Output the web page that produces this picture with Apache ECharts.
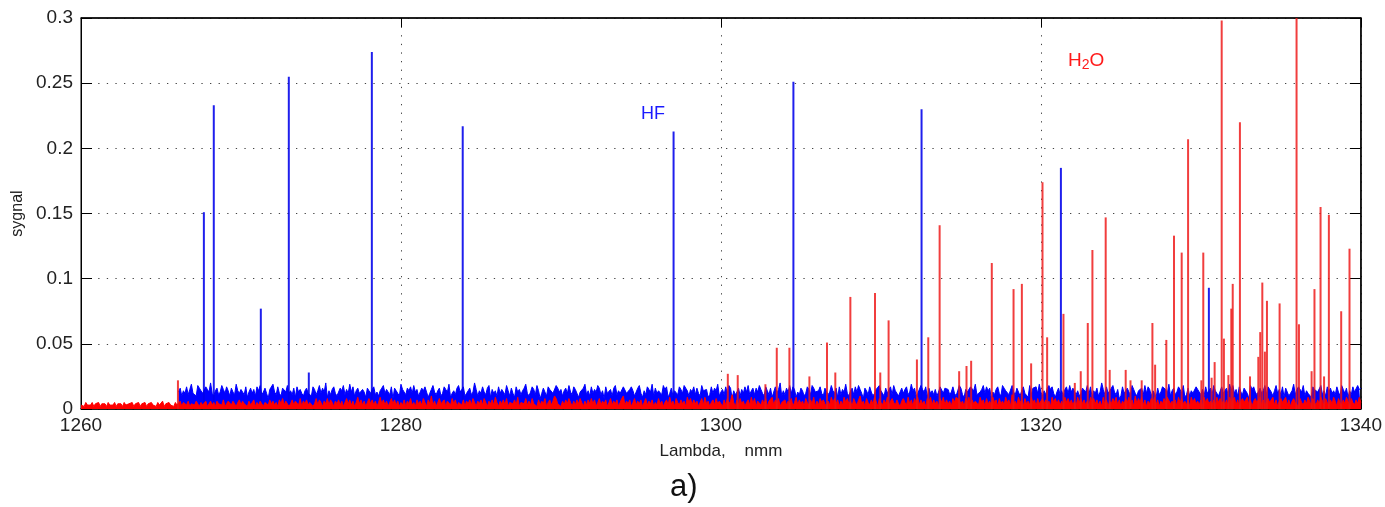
<!DOCTYPE html>
<html><head><meta charset="utf-8">
<script src="https://cdn.jsdelivr.net/npm/echarts@6/dist/echarts.min.js"></script>
<style>html,body{margin:0;padding:0;background:#fff}#c{width:1385px;height:507px}</style>
</head><body><div id="c"></div>
<script>
// ---- data ----
const xTickValues = [1260, 1280, 1300, 1320, 1340];
const yTickValues = [0, 0.05, 0.1, 0.15, 0.2, 0.25, 0.3];

// HF absorption lines (nm, signal)
const hfPos = [1267.68, 1268.30, 1271.24, 1272.99, 1274.24, 1278.18, 1283.86, 1297.04, 1304.53, 1312.54, 1321.25, 1330.50];
const hfVal = [0.151, 0.233, 0.077, 0.255, 0.028, 0.274, 0.217, 0.213, 0.251, 0.230, 0.185, 0.093];

// H2O absorption lines (nm, signal)
const h2oPos = [1266.06, 1300.43, 1301.05, 1302.78, 1303.49, 1304.28, 1305.53, 1306.63, 1307.15, 1308.09,
  1309.63, 1309.96, 1310.48, 1312.25, 1312.96, 1313.67, 1314.89, 1315.35, 1315.64, 1316.93,
  1318.29, 1318.81, 1319.39, 1320.10, 1320.39, 1321.41, 1322.12, 1322.49, 1322.93, 1323.22,
  1324.05, 1324.30, 1325.30, 1325.60, 1326.30, 1326.97, 1327.14, 1327.84, 1328.32, 1328.80,
  1329.20, 1330.03, 1330.15, 1330.67, 1330.86, 1331.30, 1331.44, 1331.72, 1331.90, 1331.99,
  1332.44, 1333.07, 1333.59, 1333.71, 1333.84, 1334.00, 1334.13, 1334.92, 1335.98, 1336.13,
  1336.92, 1337.10, 1337.48, 1337.70, 1338.00, 1338.77, 1339.29];
const h2oVal = [0.022, 0.027, 0.026, 0.019, 0.047, 0.047, 0.025, 0.051, 0.028, 0.086,
  0.089, 0.028, 0.068, 0.038, 0.055, 0.141, 0.029, 0.033, 0.037, 0.112,
  0.092, 0.096, 0.035, 0.174, 0.055, 0.073, 0.020, 0.029, 0.066, 0.122,
  0.147, 0.030, 0.030, 0.022, 0.022, 0.066, 0.034, 0.053, 0.133, 0.120,
  0.207, 0.022, 0.120, 0.024, 0.036, 0.298, 0.054, 0.026, 0.077, 0.096,
  0.220, 0.025, 0.040, 0.059, 0.097, 0.044, 0.083, 0.081, 0.300, 0.065,
  0.029, 0.092, 0.155, 0.025, 0.149, 0.075, 0.123];

// Noise floor, sampled every 0.1 nm. Each character is one sample,
// written as a base-36 digit in thousandths of signal ('c' = 0.012).
const hfNoiseStart = 1266.1;
const h2oNoiseStart = 1260.0;
const noiseStepNm = 0.1;
const hfNoise = [
  "dgaechbfjcdaigecbhfdkcaegbdifcheagdbjecf",
  "ebh9dgcfaheibdgc8fejdbhcagfdicebg9hdfcae",
  "gcdahfbeicgdk9ebfhcadgeibfcjdhaegcbfd9ge",
  "cfhbdaegicfdbh8gecajfdbgehcidfabgehd9cfi",
  "dbegachfdj9cebgidfhacegbdkfaechdbgi9fcea",
  "hcfdbieagc9hdfbegjcadhfbie8cgdahfecbigdf",
  "aegcidbhfe9dcgjbeahcfdigbe8hcdfagibecdhg",
  "cbfheadgic9ebhfdjagcedbifh9cgaedbhfcigea",
  "fdhbgcaiedf9bhcgejadfbhcig8ebdgafchdibeg",
  "bgdifcahebg9dhcfkaebgdichf9dbgeachfbigdc",
  "ehcagfbdiecg9hbfdjcaegbhdifc8gebhdacfgie",
  "dagcfhbieda9gcfhbdjegacbifdh9gcebfadhicg",
  "gfbdhcaeigb9fdchgejbadficheg8dbfhcaigedb",
  "cidbgfaehcd9ibgfhcjdaebgifhc9dgbeafhcidg",
  "hbeacgfdibh9ecgadkfbhcegidbf8ahcegdbifca",
  "edgbichfaec9gbdhifcjaegbdhfci9bgaecdhfgb",
  "fahcdgbiefa9hcdgbjeicfahdbgec8ifhdbagcei",
  "bhgdaeicfbh9gdacejbfhgdiaecb9hfgdcibeahd",
  "gcebhdaifcg9ebhdcifg"].join('');
const h2oNoise = [
  "3425343524352434253435243425324352435243",
  "5243534253462435342534625436245364253462",
  "4635264537246536425736452634725364256374",
  "6352748365247365382647356248375264837526",
  "4736258473625947362584736259473625847362",
  "5372648352746385274a36258437265384725637",
  "2647385264738526473952647382564739256483",
  "6384527364825736a84526374852637485263748",
  "4725836472583647258a36472583647258364725",
  "3846257394628537462958374625839462573846",
  "5273846b52738462573948265374826593748256",
  "7364825937462853749263857426395847263958",
  "4628537a46285374962853749268537426853947",
  "2859374628593746285937462859a74628593746",
  "6395728463957284639572b46395728463957284",
  "5847362958473629584736295847362958473629",
  "3726485937264859372a48593726485937264859",
  "8463729584637295846372958463729584637295",
  "4937268549372685493726854937268549372685",
  "6285374962853749628537496285374962853749",
  "5"].join('');

// ---- build series data ----
const noisePairs = (start, codes) => codes.split('').map((ch, i) =>
  [+(start + i * noiseStepNm).toFixed(2), parseInt(ch, 36) / 1000]);
const hfLines = hfPos.map((x, i) => [x, hfVal[i]]);
const h2oLines = h2oPos.map((x, i) => [x, h2oVal[i]]);

const FONT = "'Liberation Sans', Arial, sans-serif";
const dotted = { show: true, lineStyle: { color: '#444', width: 1, type: [1.3, 7.3] } };

const chart = echarts.init(document.getElementById('c'), null, { renderer: 'canvas' });
chart.setOption({
  animation: false,
  backgroundColor: '#fff',
  grid: { left: 81, right: 23, top: 18, bottom: 98, show: true, borderColor: '#000', borderWidth: 1, containLabel: false },
  xAxis: [{
    type: 'value', min: xTickValues[0], max: xTickValues[xTickValues.length - 1], interval: 20,
    position: 'bottom',
    axisLine: { show: true, onZero: false, lineStyle: { color: '#000', width: 1.5 } },
    axisTick: { show: true, inside: true, length: 9, lineStyle: { color: '#000' } },
    axisLabel: { fontSize: 19, color: '#222', fontFamily: FONT, margin: 7, formatter: v => String(v) },
    splitLine: dotted,
    name: 'Lambda,    nmm', nameLocation: 'middle', nameGap: 34,
    nameTextStyle: { fontSize: 17, color: '#222', fontFamily: FONT }
  }, {
    type: 'value', min: xTickValues[0], max: xTickValues[xTickValues.length - 1], interval: 20,
    position: 'top',
    axisLine: { show: true, onZero: false, lineStyle: { color: '#000', width: 1.5 } },
    axisTick: { show: true, inside: true, length: 9, lineStyle: { color: '#000' } },
    axisLabel: { show: false }, splitLine: { show: false }
  }],
  yAxis: [{
    type: 'value', min: yTickValues[0], max: yTickValues[yTickValues.length - 1], interval: 0.05,
    position: 'left',
    axisLine: { show: true, onZero: false, lineStyle: { color: '#000', width: 1 } },
    axisTick: { show: true, inside: true, length: 11, lineStyle: { color: '#000' } },
    axisLabel: { fontSize: 19, color: '#222', fontFamily: FONT, margin: 8 },
    splitLine: dotted,
    name: 'sygnal', nameLocation: 'middle', nameGap: 55, nameRotate: 90,
    nameTextStyle: { fontSize: 16, color: '#222', fontFamily: FONT }
  }, {
    type: 'value', min: yTickValues[0], max: yTickValues[yTickValues.length - 1], interval: 0.05,
    position: 'right',
    axisLine: { show: true, onZero: false, lineStyle: { color: '#000', width: 1.5 } },
    axisTick: { show: true, inside: true, length: 11, lineStyle: { color: '#000' } },
    axisLabel: { show: false }, splitLine: { show: false }
  }],
  series: [{
    name: 'HF noise', type: 'line', data: noisePairs(hfNoiseStart, hfNoise),
    showSymbol: false, sampling: null, z: 2,
    lineStyle: { color: '#0000ff', width: 1 },
    areaStyle: { color: '#0000ff', opacity: 1 }
  }, {
    name: 'HF', type: 'bar', data: hfLines, barWidth: 2, barGap: '-100%', z: 3,
    itemStyle: { color: 'rgba(0,0,235,0.88)' }
  }, {
    name: 'H2O noise', type: 'line', data: noisePairs(h2oNoiseStart, h2oNoise),
    showSymbol: false, sampling: null, z: 4,
    lineStyle: { color: '#ff0000', width: 1 },
    areaStyle: { color: '#ff0000', opacity: 1 }
  }, {
    name: 'H2O', type: 'bar', data: h2oLines, barWidth: 2, barGap: '-100%', z: 5,
    itemStyle: { color: 'rgba(238,20,20,0.82)' }
  }],
  graphic: [{
    type: 'text', left: 641, top: 105, z: 10,
    style: { text: 'HF', fontSize: 18, fill: '#1a1aff', fontFamily: FONT }
  }, {
    type: 'text', left: 1068, top: 51, z: 10,
    style: {
      text: '{a|H}{b|2}{a|O}', fontFamily: FONT,
      rich: {
        a: { fontSize: 19, fill: '#ff1a1a', fontFamily: FONT },
        b: { fontSize: 14, fill: '#ff1a1a', fontFamily: FONT, padding: [10, 0, 0, 0] }
      }
    }
  }, {
    type: 'text', left: 670, top: 472, z: 10,
    style: { text: 'a)', fontSize: 31, fill: '#111', fontFamily: FONT }
  }]
});
</script>
</body></html>
